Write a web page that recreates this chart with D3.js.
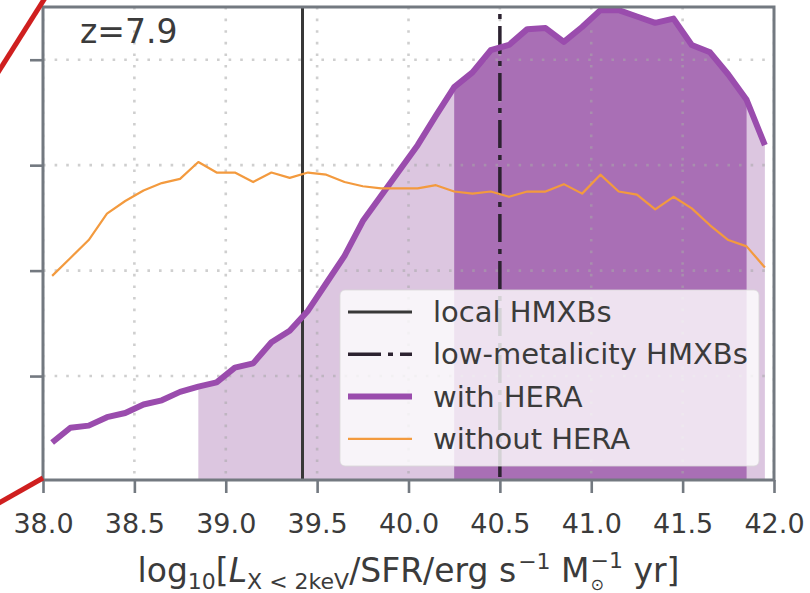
<!DOCTYPE html>
<html>
<head>
<meta charset="utf-8">
<script src="https://cdn.jsdelivr.net/npm/d3@7"></script>
<style>
  html, body { margin: 0; padding: 0; background: #ffffff; }
  svg { display: block; font-family: "DejaVu Sans", sans-serif; }
</style>
</head>
<body>
<svg id="chart" width="810" height="593"></svg>
<script>
// Bin centres of log10(L_X<2keV / SFR)
const logL = [
  38.05, 38.15, 38.25, 38.35, 38.45, 38.55, 38.65, 38.75, 38.85, 38.95,
  39.05, 39.15, 39.25, 39.35, 39.45, 39.55, 39.65, 39.75, 39.85, 39.95,
  40.05, 40.15, 40.25, 40.35, 40.45, 40.55, 40.65, 40.75, 40.85, 40.95,
  41.05, 41.15, 41.25, 41.35, 41.45, 41.55, 41.65, 41.75, 41.85, 41.95
];

// Posterior density with HERA limits (arbitrary units)
const withHERA = [
  0.37, 0.51, 0.53, 0.61, 0.65, 0.73, 0.77, 0.85, 0.90, 0.94,
  1.08, 1.12, 1.32, 1.43, 1.62, 1.88, 2.14, 2.47, 2.71, 2.95,
  3.19, 3.47, 3.74, 3.88, 4.09, 4.14, 4.29, 4.30, 4.17, 4.31,
  4.47, 4.47, 4.41, 4.35, 4.39, 4.14, 4.07, 3.86, 3.62, 3.19
];

// Prior-only density without HERA
const withoutHERA = [
  1.95, 2.12, 2.29, 2.54, 2.66, 2.76, 2.83, 2.87, 3.03, 2.93,
  2.93, 2.84, 2.93, 2.88, 2.93, 2.91, 2.84, 2.80, 2.78, 2.78,
  2.78, 2.81, 2.75, 2.73, 2.75, 2.70, 2.75, 2.75, 2.82, 2.73,
  2.91, 2.75, 2.72, 2.58, 2.70, 2.59, 2.43, 2.29, 2.23, 2.03
];

// Credible intervals (outer = 95%, inner = 68%)
const outerInterval = [38.85, 41.95];
const innerInterval = [40.25, 41.85];

// Reference luminosities
const localHMXB = 39.42;
const lowMetalHMXB = 40.5;

const xTickValues = [38.0, 38.5, 39.0, 39.5, 40.0, 40.5, 41.0, 41.5, 42.0];
const yTickValues = [1, 2, 3, 4];
const redshiftLabel = "z=7.9";
const legendLabels = ["local HMXBs", "low-metalicity HMXBs", "with HERA", "without HERA"];

// ---- layout ----
const plot = { left: 43, right: 774, top: 7, bottom: 480 };

const colors = {
  text: "#3b3b3b",
  spine: "#737980",
  grid: "#a8a8a8",
  vline: "#383838",
  purple: "#9a4cad",
  innerFill: "#a96fb5",
  outerFill: "#dcc6e0",
  orange: "#f39a3e",
  red: "#cf1f1f"
};

const svg = d3.select("#chart");

const x = d3.scaleLinear().domain([38, 42]).range([plot.left, plot.right]);
const y = d3.scaleLinear().domain([0, 4.5]).range([481.5, plot.top]);

const series = logL.map((v, i) => ({ x: v, a: withHERA[i], b: withoutHERA[i] }));

svg.append("defs").append("clipPath").attr("id", "plotClip")
  .append("rect")
  .attr("x", plot.left).attr("y", plot.top)
  .attr("width", plot.right - plot.left).attr("height", plot.bottom - plot.top);

const body = svg.append("g").attr("clip-path", "url(#plotClip)");

// shaded credible regions under the HERA curve
const area = d3.area()
  .x(d => x(d.x))
  .y0(plot.bottom)
  .y1(d => y(d.a));

const inRange = (r) => d => d.x >= r[0] - 1e-6 && d.x <= r[1] + 1e-6;

body.append("path")
  .datum(series.filter(inRange(outerInterval)))
  .attr("d", area)
  .attr("fill", colors.outerFill);

body.append("path")
  .datum(series.filter(inRange(innerInterval)))
  .attr("d", area)
  .attr("fill", colors.innerFill);

// dotted grid
const grid = body.append("g")
  .attr("stroke", colors.grid)
  .attr("stroke-opacity", 0.55)
  .attr("stroke-width", 2.6)
  .attr("stroke-dasharray", "2.6,9");

grid.selectAll("line.gx")
  .data(xTickValues)
  .join("line")
  .attr("x1", d => x(d)).attr("x2", d => x(d))
  .attr("y1", plot.top).attr("y2", plot.bottom);

grid.selectAll("line.gy")
  .data(yTickValues)
  .join("line")
  .attr("x1", plot.left).attr("x2", plot.right)
  .attr("y1", d => y(d)).attr("y2", d => y(d));

// reference luminosity markers
body.append("line")
  .attr("x1", x(localHMXB)).attr("x2", x(localHMXB))
  .attr("y1", plot.top).attr("y2", plot.bottom)
  .attr("stroke", colors.vline).attr("stroke-width", 3);

body.append("line")
  .attr("x1", x(lowMetalHMXB)).attr("x2", x(lowMetalHMXB))
  .attr("y1", plot.top).attr("y2", plot.bottom)
  .attr("stroke", "#2c2230").attr("stroke-width", 3.5)
  .attr("stroke-dasharray", "28,7,5,7")
  .attr("stroke-dashoffset", 28);

// density curves
const lineA = d3.line().x(d => x(d.x)).y(d => y(d.a));
const lineB = d3.line().x(d => x(d.x)).y(d => y(d.b));

body.append("path")
  .datum(series)
  .attr("d", lineA)
  .attr("fill", "none")
  .attr("stroke", colors.purple)
  .attr("stroke-width", 6)
  .attr("stroke-linejoin", "round");

body.append("path")
  .datum(series)
  .attr("d", lineB)
  .attr("fill", "none")
  .attr("stroke", colors.orange)
  .attr("stroke-width", 2.2)
  .attr("stroke-linejoin", "round");

// redshift tag
svg.append("text")
  .attr("x", 80).attr("y", 43)
  .attr("font-size", 33)
  .attr("fill", colors.text)
  .text(redshiftLabel);

// legend
const legend = svg.append("g");
const lg = { x: 340, y: 290, w: 419, h: 176, rowY0: 312, rowStep: 42.3, hx0: 348, hx1: 412, tx: 433 };
legend.append("rect")
  .attr("x", lg.x).attr("y", lg.y)
  .attr("width", lg.w).attr("height", lg.h)
  .attr("rx", 5)
  .attr("fill", "#ffffff").attr("fill-opacity", 0.8)
  .attr("stroke", "#d8d8d8").attr("stroke-opacity", 0.8).attr("stroke-width", 1);

const handleStyles = [
  { stroke: colors.vline, width: 3, dash: null },
  { stroke: "#2c2230", width: 3.5, dash: "33,7,5,7" },
  { stroke: colors.purple, width: 6, dash: null },
  { stroke: colors.orange, width: 2.2, dash: null }
];

legendLabels.forEach((label, i) => {
  const ry = lg.rowY0 + i * lg.rowStep;
  const s = handleStyles[i];
  legend.append("line")
    .attr("x1", lg.hx0).attr("x2", lg.hx1)
    .attr("y1", ry).attr("y2", ry)
    .attr("stroke", s.stroke).attr("stroke-width", s.width)
    .attr("stroke-dasharray", s.dash);
  legend.append("text")
    .attr("x", lg.tx).attr("y", ry + 10)
    .attr("font-size", 29)
    .attr("fill", colors.text)
    .text(label);
});

// frame
svg.append("rect")
  .attr("x", plot.left).attr("y", plot.top)
  .attr("width", plot.right - plot.left).attr("height", plot.bottom - plot.top)
  .attr("fill", "none")
  .attr("stroke", colors.spine).attr("stroke-width", 3);

// x axis ticks and labels
const xAxis = d3.axisBottom(x)
  .tickValues(xTickValues)
  .tickFormat(d3.format(".1f"))
  .tickSize(13)
  .tickPadding(21);

const gx = svg.append("g")
  .attr("transform", `translate(0,${plot.bottom})`)
  .call(xAxis);
gx.select(".domain").remove();
gx.selectAll(".tick line").attr("stroke", colors.spine).attr("stroke-width", 2.6);
gx.selectAll(".tick text")
  .attr("font-family", "DejaVu Sans")
  .attr("font-size", 27)
  .attr("fill", colors.text);

// y axis: tick marks only
const yAxis = d3.axisLeft(y)
  .tickValues(yTickValues)
  .tickFormat("")
  .tickSize(13);
const gy = svg.append("g")
  .attr("transform", `translate(${plot.left},0)`)
  .call(yAxis);
gy.select(".domain").remove();
gy.selectAll(".tick line").attr("stroke", colors.spine).attr("stroke-width", 2.6);

// x axis title, typeset piece by piece
const big = 33, small = 22;
const titleParts = [
  { t: "log", s: big },
  { t: "10", s: small, dy: 7 },
  { t: "[", s: big },
  { t: "L", s: big, italic: true },
  { t: "X < 2keV", s: small, dy: 7 },
  { t: "/SFR/erg s", s: big },
  { t: "\u22121", s: small, dy: -13, pad: 2 },
  { t: " M", s: big },
  { stack: [{ t: "\u2299", s: 16, dy: 8 }, { t: "\u22121", s: small, dy: -14 }] },
  { t: " yr]", s: big }
];

const title = svg.append("g");
let cursor = 0;
function putText(p, at) {
  const el = title.append("text")
    .attr("x", at).attr("y", p.dy || 0)
    .attr("font-size", p.s)
    .attr("font-style", p.italic ? "italic" : null)
    .attr("fill", colors.text)
    .style("white-space", "pre")
    .text(p.t);
  return el.node().getComputedTextLength();
}
titleParts.forEach(p => {
  if (p.stack) {
    const widths = p.stack.map(q => putText(q, cursor + 1));
    cursor += d3.max(widths) + 1;
  } else {
    cursor += (p.pad || 0);
    cursor += putText(p, cursor);
  }
});
title.attr("transform", `translate(${(plot.left + plot.right) / 2 - cursor / 2},582)`);

// connector lines to the neighbouring panel
svg.append("line")
  .attr("x1", plot.left + 2).attr("y1", plot.top - 9)
  .attr("x2", -3).attr("y2", 74)
  .attr("stroke", colors.red).attr("stroke-width", 5);
svg.append("line")
  .attr("x1", plot.left).attr("y1", plot.bottom - 2)
  .attr("x2", -3).attr("y2", 504)
  .attr("stroke", colors.red).attr("stroke-width", 5);
</script>
</body>
</html>
